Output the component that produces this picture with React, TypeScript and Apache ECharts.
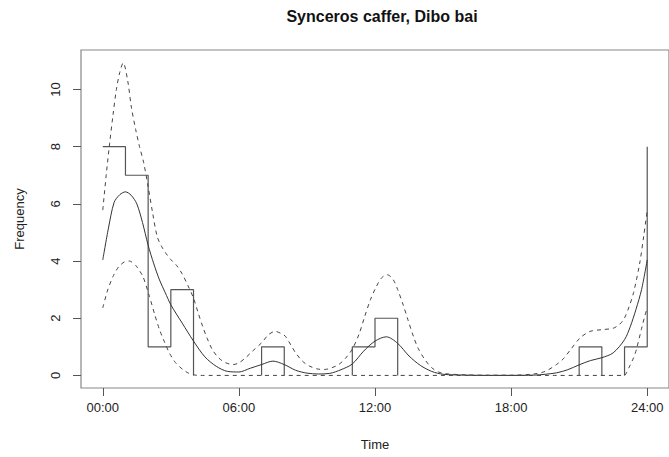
import React, { useEffect, useRef } from "react";
import * as echarts from "echarts";

// Hourly histogram counts, bins 0-1, 1-2, ..., 23-24
const COUNTS = [8, 7, 1, 3, 0, 0, 0, 1, 0, 0, 0, 1, 2, 0, 0, 0, 0, 0, 0, 0, 0, 1, 0, 1];

// Fitted activity density (scaled to frequency), [hour, value]
const DENSITY: [number, number][] = [
  [0, 4.04], [0.25, 5.15], [0.5, 6.05], [0.75, 6.32], [1.0, 6.42], [1.25, 6.3],
  [1.5, 6.0], [1.75, 5.35], [2.0, 4.55], [2.25, 3.9], [2.5, 3.34], [2.75, 2.9],
  [3.0, 2.47], [3.5, 1.83], [4.0, 1.2], [4.5, 0.65], [5.0, 0.32], [5.5, 0.14],
  [6.0, 0.12], [6.5, 0.25], [7.0, 0.38], [7.5, 0.5], [8.0, 0.38], [8.5, 0.18],
  [9.0, 0.08], [9.5, 0.05], [10.0, 0.07], [10.5, 0.2], [11.0, 0.4], [11.5, 0.85],
  [12.0, 1.2], [12.5, 1.35], [13.0, 1.12], [13.5, 0.68], [14.0, 0.35], [14.5, 0.14],
  [15.0, 0.04], [16, 0.01], [17, 0.0], [18, 0.0], [19, 0.01], [19.5, 0.04],
  [20, 0.09], [20.5, 0.2], [21, 0.37], [21.5, 0.52], [22, 0.62], [22.5, 0.79],
  [23, 1.25], [23.25, 1.7], [23.5, 2.3], [23.75, 3.0], [24, 4.04],
];

// Upper confidence limit
const UPPER: [number, number][] = [
  [0, 5.78], [0.15, 7.0], [0.3, 8.1], [0.45, 9.1], [0.6, 10.0], [0.75, 10.6],
  [0.9, 10.93], [1.1, 10.3], [1.26, 9.38], [1.45, 8.6], [1.62, 8.0], [1.8, 7.45],
  [2.0, 6.6], [2.2, 5.67], [2.4, 4.85], [2.6, 4.5], [2.8, 4.25], [3.0, 4.05],
  [3.25, 3.85], [3.5, 3.55], [3.75, 3.15], [4.0, 2.7], [4.2, 2.2], [4.4, 1.72],
  [4.6, 1.3], [4.83, 0.9], [5.1, 0.62], [5.4, 0.45], [5.75, 0.38], [6.0, 0.44],
  [6.3, 0.62], [6.6, 0.85], [7.0, 1.14], [7.3, 1.42], [7.6, 1.54], [7.85, 1.47],
  [8.05, 1.37], [8.3, 1.05], [8.5, 0.79], [8.8, 0.5], [9.1, 0.33], [9.5, 0.22],
  [9.8, 0.21], [10.1, 0.27], [10.4, 0.38], [10.7, 0.6], [11.0, 0.92], [11.3, 1.45],
  [11.55, 2.07], [11.8, 2.65], [12.06, 3.11], [12.3, 3.42], [12.54, 3.52], [12.8, 3.35],
  [13.0, 3.0], [13.25, 2.45], [13.45, 1.95], [13.7, 1.35], [13.9, 0.95], [14.2, 0.55],
  [14.5, 0.27], [14.8, 0.12], [15.1, 0.06], [16, 0.02], [17, 0.01], [18, 0.01],
  [19, 0.05], [19.5, 0.14], [20, 0.38], [20.3, 0.58], [20.6, 0.88], [21.04, 1.31],
  [21.48, 1.54], [22, 1.6], [22.5, 1.65], [22.8, 1.8], [23.0, 2.01], [23.2, 2.4],
  [23.4, 2.9], [23.67, 3.93], [23.85, 4.9], [24, 5.78],
];

// Lower confidence limit
const LOWER: [number, number][] = [
  [0, 2.36], [0.2, 2.95], [0.45, 3.46], [0.7, 3.8], [0.95, 3.97], [1.18, 4.0],
  [1.45, 3.85], [1.77, 3.46], [2.06, 2.76], [2.3, 2.1], [2.5, 1.6], [2.73, 1.15],
  [2.93, 0.79], [3.2, 0.45], [3.52, 0.21], [3.75, 0.09], [4.0, 0.02], [4.3, 0],
  [8, 0], [12, 0], [16, 0], [20, 0], [23.0, 0], [23.1, 0.12], [23.23, 0.33],
  [23.4, 0.62], [23.52, 0.9], [23.74, 1.6], [23.9, 2.1], [24, 2.36],
];

const X_TICKS = [0, 6, 12, 18, 24];
const X_TICK_LABELS = ["00:00", "06:00", "12:00", "18:00", "24:00"];
const Y_TICKS = [0, 2, 4, 6, 8, 10];

function histogramRuns(counts: number[]): [number, number][][] {
  const runs: [number, number][][] = [];
  let cur: [number, number][] | null = null;
  for (let i = 0; i < counts.length; i++) {
    const h = counts[i];
    if (h === 0) {
      if (cur) {
        cur.push([i, 0]);
        runs.push(cur);
        cur = null;
      }
      continue;
    }
    if (!cur) {
      cur = [];
      if (i > 0) cur.push([i, 0]);
    }
    cur.push([i, h]);
    cur.push([i + 1, h]);
  }
  if (cur) {
    // wrap-around: step up to the first bin's height at 24:00
    cur.push([counts.length, counts[0]]);
    runs.push(cur);
  }
  return runs;
}

export default function App() {
  const ref = useRef<HTMLDivElement>(null);
  useEffect(() => {
    if (!ref.current) return;
    const chart = echarts.init(ref.current, undefined, { renderer: "svg" });
    const font = "'Liberation Sans', Arial, Helvetica, sans-serif";
    const runs = histogramRuns(COUNTS);
    const histSeries = runs.map((r, k) => ({
      type: "line",
      name: "hist" + k,
      data: r,
      showSymbol: false,
      silent: true,
      lineStyle: { color: "#555", width: 1.2 },
      z: 2,
    }));
    chart.setOption({
      animation: false,
      textStyle: { fontFamily: font },
      title: {
        text: "Synceros caffer, Dibo bai",
        left: 377,
        textAlign: "center",
        top: 3,
        textStyle: { fontFamily: font, fontSize: 16, fontWeight: "bold", color: "#111" },
      },
      grid: {
        left: 81,
        top: 50,
        width: 592,
        height: 338,
        show: true,
        borderColor: "#888",
        borderWidth: 1.2,
        containLabel: false,
      },
      xAxis: {
        type: "value",
        min: -0.96,
        max: 24.96,
        name: "Time",
        nameLocation: "middle",
        nameGap: 50,
        nameTextStyle: { fontFamily: font, fontSize: 13, color: "#222" },
        axisLine: { show: false, onZero: false },
        splitLine: { show: false },
        axisTick: {
          show: true,
          customValues: X_TICKS,
          length: 8,
          lineStyle: { color: "#555", width: 1 },
        },
        axisLabel: {
          customValues: X_TICKS,
          margin: 13,
          fontSize: 13,
          color: "#222",
          fontFamily: font,
          formatter: (v: number) => X_TICK_LABELS[X_TICKS.indexOf(v)] ?? "",
        },
      },
      yAxis: {
        type: "value",
        min: -0.44,
        max: 11.38,
        name: "Frequency",
        nameLocation: "middle",
        nameGap: 55,
        nameTextStyle: { fontFamily: font, fontSize: 13, color: "#222" },
        axisLine: { show: false, onZero: false },
        splitLine: { show: false },
        axisTick: {
          show: true,
          customValues: Y_TICKS,
          length: 8,
          lineStyle: { color: "#555", width: 1 },
        },
        axisLabel: {
          customValues: Y_TICKS,
          rotate: 90,
          margin: 19,
          fontSize: 13,
          color: "#222",
          fontFamily: font,
        },
      },
      series: [
        ...histSeries,
        {
          type: "line",
          name: "density",
          data: DENSITY,
          showSymbol: false,
          silent: true,
          smooth: 0.3,
          lineStyle: { color: "#333", width: 1 },
          z: 3,
        },
        {
          type: "line",
          name: "upper",
          data: UPPER,
          showSymbol: false,
          silent: true,
          smooth: 0.3,
          lineStyle: { color: "#444", width: 1, type: [4, 4] },
          z: 3,
        },
        {
          type: "line",
          name: "lower",
          data: LOWER,
          showSymbol: false,
          silent: true,
          smooth: 0.2,
          lineStyle: { color: "#444", width: 1, type: [4, 4] },
          z: 3,
        },
      ],
    });
    return () => chart.dispose();
  }, []);
  return (
    <div
      ref={ref}
      style={{ position: "fixed", left: 0, top: 0, width: 669, height: 457, background: "#fff" }}
    />
  );
}
